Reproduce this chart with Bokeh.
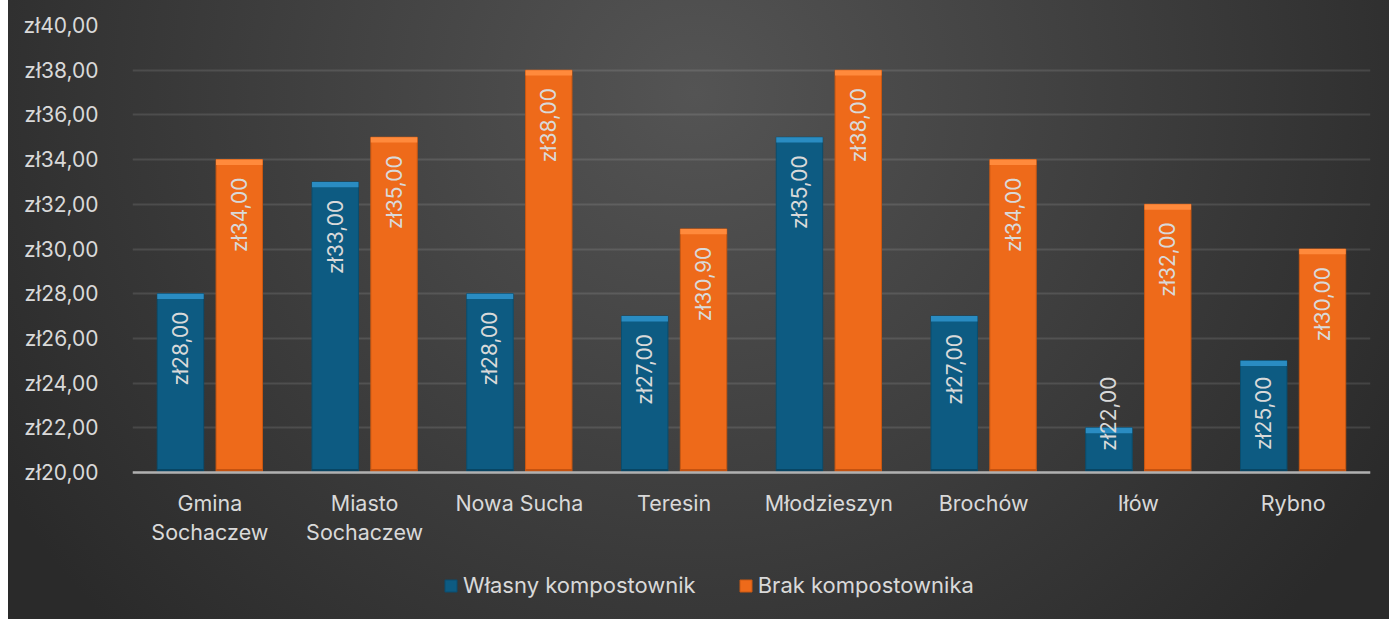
import numpy as np
from bokeh.plotting import figure
from bokeh.models import (ColumnDataSource, FactorRange, Range1d, Legend, LegendItem,
                          CustomJSTickFormatter, FixedTicker, InlineStyleSheet, Span)
from bokeh.transform import dodge
from bokeh.core.properties import value
from bokeh.embed import file_html
from bokeh.resources import INLINE

# ---- data ----
categories = ["Gmina\nSochaczew", "Miasto\nSochaczew", "Nowa Sucha", "Teresin",
              "Młodzieszyn", "Brochów", "Iłów", "Rybno"]
wlasny = [28, 33, 28, 27, 35, 27, 22, 25]
brak = [34, 35, 38, 30.9, 38, 34, 32, 30]
series_names = ["Własny kompostownik", "Brak kompostownika"]
y_ticks = [20, 22, 24, 26, 28, 30, 32, 34, 36, 38, 40]

Y0, Y1 = 20, 40
FONT = "Inter"
TXT = "#d9d9d9"
PX_PER_UNIT = 447 / (Y1 - Y0)      # plot height of the value band
BOTTOM_SPACE = 147                 # room under the baseline for labels + legend

def fmt(v):
    return "zł" + f"{v:.2f}".replace(".", ",")

def label_top(v):
    # label ends ~18px under the bar top, but never lower than fits above the base
    return max(v - 0.8, Y0 + 4.3)

src = ColumnDataSource(dict(
    cat=categories,
    a=wlasny, b=brak,
    a_lbl=[fmt(v) for v in wlasny], b_lbl=[fmt(v) for v in brak],
    a_ly=[label_top(v) for v in wlasny], b_ly=[label_top(v) for v in brak],
    a_bev=[v - 0.24 for v in wlasny], b_bev=[v - 0.24 for v in brak],
    base=[Y0] * len(categories),
))

css = InlineStyleSheet(css=""":host { background:
  linear-gradient(#ffffff, #ffffff) 0 0 / 8px 100% no-repeat,
  radial-gradient(ellipse 58% 125% at 50% 15%, #545454 0%, #3d3d3d 55%, #2a2a2a 100%); }""")

p = figure(x_range=FactorRange(*categories, range_padding=0),
           y_range=Range1d(Y0 - BOTTOM_SPACE / PX_PER_UNIT, Y1),
           width=1389, height=619, output_backend="svg", toolbar_location=None,
           stylesheets=[css])
p.background_fill_alpha = 0
p.border_fill_alpha = 0
p.outline_line_color = None
p.min_border_left = 132
p.min_border_right = 19
p.min_border_top = 25
p.min_border_bottom = 0
p.xaxis.visible = False

p.ygrid.grid_line_color = "white"
p.ygrid.grid_line_alpha = 0.11
p.ygrid.grid_line_width = 2
p.xgrid.grid_line_color = None

off, w = 0.19, 0.30
colors = [("#0d5b82", "#2a8cc2", "#084563", "#0a4d6e"),
          ("#ee6a1a", "#ff8a3c", "#c45210", "#c95812")]

renderers = []
for key, sign, (main, light, dark, edge) in zip(["a", "b"], [-1, 1], colors):
    xx = dodge("cat", sign * off, range=p.x_range)
    r = p.vbar(x=xx, top=key, bottom=Y0, width=w, source=src,
               fill_color=main, line_color=edge, line_width=1)
    p.vbar(x=xx, top=key, bottom=f"{key}_bev", width=w, source=src,
           fill_color=light, line_color=None)
    p.vbar(x=xx, top=Y0 + 0.16, bottom=Y0, width=w, source=src,
           fill_color=dark, line_color=None)
    p.text(x=xx, y=f"{key}_ly", text=f"{key}_lbl", source=src, angle=np.pi / 2,
           text_align="right", text_baseline="middle", text_color=TXT,
           text_font=value(FONT), text_font_size="21px")
    renderers.append(r)

# baseline (category axis line)
p.add_layout(Span(location=Y0, dimension="width", line_color="#b0b0b0", line_width=2.5))

# category labels
p.text(x="cat", y="base", text="cat", source=src, y_offset=17,
       text_align="center", text_baseline="top", text_color=TXT,
       text_font=value(FONT), text_font_size="21.5px", text_line_height=1.15)

# value axis
p.yaxis.ticker = FixedTicker(ticks=y_ticks)
p.yaxis.formatter = CustomJSTickFormatter(code='return "zł" + tick.toFixed(2).replace(".", ",");')
p.yaxis.axis_line_color = None
p.yaxis.major_tick_line_color = None
p.yaxis.minor_tick_line_color = None
p.yaxis.major_label_standoff = 28
p.yaxis.major_label_text_font = FONT
p.yaxis.major_label_text_font_size = "21px"
p.yaxis.major_label_text_color = TXT

legend = Legend(items=[LegendItem(label=series_names[0], renderers=[renderers[0]]),
                       LegendItem(label=series_names[1], renderers=[renderers[1]])],
                orientation="horizontal", location=(311, 21))
legend.background_fill_alpha = 0
legend.border_line_alpha = 0
legend.glyph_width = 15
legend.glyph_height = 15
legend.label_text_font = FONT
legend.label_text_font_size = "22px"
legend.label_text_color = TXT
legend.spacing = 42
legend.label_standoff = 5
legend.padding = 0
legend.margin = 0
p.add_layout(legend, "center")

open("out.html", "w").write(file_html(p, INLINE))
